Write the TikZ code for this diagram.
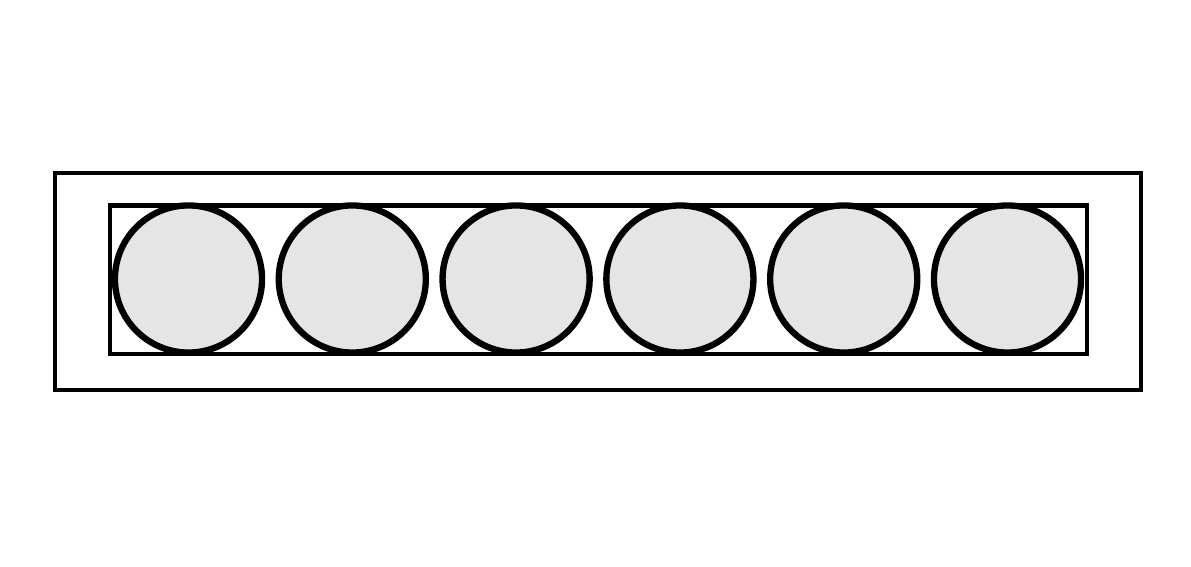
\documentclass[tikz,border=0pt]{standalone}
\usepackage{tikz}
\definecolor{ballgray}{HTML}{E5E5E5}

\begin{document}
\begin{tikzpicture}[x=0.01cm,y=-0.01cm]
\tikzstyle{frame}=[draw,line width=1.3pt]
\tikzstyle{ball}=[circle,draw,line width=1.8pt,fill=ballgray,inner sep=0pt,minimum size=1.47cm]
\useasboundingbox (0,0) rectangle (1191,567);
\draw[frame] (55,173) rectangle (1141,390);
\draw[frame] (110,205.5) rectangle (1087,354);
\foreach \i in {0,...,5}
  \node[ball] (ball\i) at (188.5+163.8*\i,279) {};
\end{tikzpicture}
\end{document}
